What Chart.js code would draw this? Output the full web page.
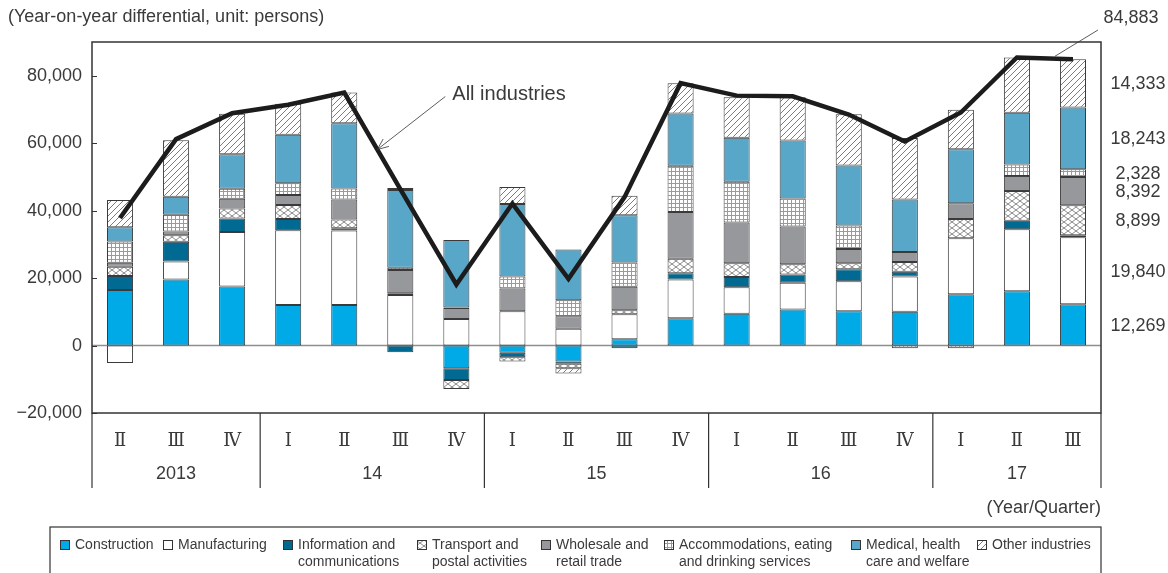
<!DOCTYPE html>
<html>
<head>
<meta charset="utf-8">
<script src="https://cdn.jsdelivr.net/npm/chart.js@4/dist/chart.umd.min.js"></script>
<style>
  html, body { margin: 0; padding: 0; background: #fff; }
</style>
</head>
<body>
<canvas id="chart" width="1168" height="573"></canvas>
<script>
// quarters 2013 II .. 2017 III
const quarters = ["Ⅱ", "Ⅲ", "Ⅳ", "Ⅰ", "Ⅱ", "Ⅲ", "Ⅳ", "Ⅰ", "Ⅱ", "Ⅲ", "Ⅳ", "Ⅰ", "Ⅱ", "Ⅲ", "Ⅳ", "Ⅰ", "Ⅱ", "Ⅲ"]
const years = ["2013", "14", "15", "16", "17"]
const quartersPerYear = [3, 4, 4, 4, 3]
const yTicks = [-20000, 0, 20000, 40000, 60000, 80000]

// year-on-year differential, persons
const construction  = [16450, 19600, 17500, 12000, 12000, 0, -6700, -2100, -4700, 1900, 8100, 9400, 10700, 10200, 10000, 15200, 16100, 12269]
const manufacturing = [-5200, 5300, 16200, 22200, 22100, 15000, 7900, 10200, 5000, 7400, 11500, 7900, 7900, 8900, 10500, 16600, 18400, 19840]
const infoComm      = [4200, 5900, 4000, 3300, 700, -2000, -3500, -1400, -700, -800, 1800, 3000, 2500, 3500, 1400, 0, 2500, 579]
const transport     = [2700, 1900, 2900, 4200, 2600, 500, -2700, -1200, -1300, 1200, 4300, 4100, 3000, 1800, 2900, 5700, 8800, 8899]
const wholesale     = [1200, 1100, 2900, 2900, 5900, 6900, 3200, 6700, 3700, 6900, 13900, 12100, 11200, 4200, 2900, 4700, 4500, 8392]
const accommodation = [6300, 5000, 3000, 3500, 3300, 700, 200, 3600, 4700, 7200, 13700, 12100, 8300, 7000, -800, -800, 3400, 2328]
const medical       = [4200, 5300, 10200, 14400, 19300, 23000, 20000, 21500, 15100, 14000, 15500, 13000, 17200, 17800, 15600, 16000, 15300, 18243]
const otherInd      = [8100, 16800, 12000, 9200, 9100, 600, 0, 5000, -1600, 5800, 9000, 12000, 12800, 15200, 18200, 11700, 16400, 14333]
const allIndustries = [37800, 61200, 68900, 71400, 75000, 46400, 18100, 42100, 19800, 44000, 77800, 74100, 73900, 68500, 60500, 69100, 85400, 84883]

const seriesLabels = [
  ["Construction"],
  ["Manufacturing"],
  ["Information and", "communications"],
  ["Transport and", "postal activities"],
  ["Wholesale and", "retail trade"],
  ["Accommodations, eating", "and drinking services"],
  ["Medical, health", "care and welfare"],
  ["Other industries"]
]

const SANS = '"Liberation Sans", Arial, sans-serif'
const SERIF = '"Liberation Serif", "DejaVu Serif", serif'
const INK = "#3a3a3a"

function makePattern(kind) {
  const c = document.createElement("canvas")
  const g = c.getContext("2d")
  if (kind === "cross") {
    c.width = 8; c.height = 6
    g.fillStyle = "#fff"; g.fillRect(0, 0, 8, 6)
    g.strokeStyle = "#8a8a8a"; g.lineWidth = 1
    g.beginPath()
    g.moveTo(0, 0); g.lineTo(8, 6)
    g.moveTo(8, 0); g.lineTo(0, 6)
    g.stroke()
  } else if (kind === "grid") {
    c.width = 4; c.height = 4
    g.fillStyle = "#fff"; g.fillRect(0, 0, 4, 4)
    g.fillStyle = "#9a9a9a"
    g.fillRect(3, 0, 1, 4)
    g.fillRect(0, 3, 4, 1)
  } else {
    c.width = 6; c.height = 6
    g.fillStyle = "#fff"; g.fillRect(0, 0, 6, 6)
    g.strokeStyle = "#7c7c7c"; g.lineWidth = 1
    g.beginPath()
    g.moveTo(0, 6); g.lineTo(6, 0)
    g.moveTo(-1, 1); g.lineTo(1, -1)
    g.moveTo(5, 7); g.lineTo(7, 5)
    g.stroke()
  }
  return g.createPattern(c, "repeat")
}

const fills = [
  "#00aae7",
  "#ffffff",
  "#006a92",
  makePattern("cross"),
  "#97989c",
  makePattern("grid"),
  "#58a6c8",
  makePattern("diag")
]
const barSeries = [construction, manufacturing, infoComm, transport, wholesale, accommodation, medical, otherInd]

const fmt = v => Math.abs(v).toLocaleString("en-US")

// left edge of each legend swatch
const legendX = [60, 163, 283, 417, 541, 664, 851, 977]

const decor = {
  id: "decor",
  beforeDatasetsDraw(chart) {
    const { ctx, chartArea: a, scales: { y } } = chart
    const y0 = y.getPixelForValue(0)
    ctx.save()
    ctx.strokeStyle = "#8e8e8e"
    ctx.lineWidth = 1.5
    ctx.beginPath()
    ctx.moveTo(a.left, y0); ctx.lineTo(a.right, y0)
    ctx.stroke()
    ctx.restore()
  },
  afterDraw(chart) {
    const { ctx, chartArea: a, scales: { x, y } } = chart
    ctx.save()

    // frame
    ctx.strokeStyle = "#333"
    ctx.lineWidth = 1.5
    ctx.strokeRect(a.left, a.top, a.right - a.left, a.bottom - a.top)

    // inner tick marks
    ctx.lineWidth = 1
    yTicks.forEach(v => {
      const py = Math.round(y.getPixelForValue(v)) + 0.5
      ctx.beginPath()
      ctx.moveTo(a.left, py); ctx.lineTo(a.left + 5, py)
      ctx.stroke()
    })

    // category labels
    const labBottom = a.bottom + 75
    ctx.fillStyle = INK
    ctx.textAlign = "center"
    ctx.textBaseline = "middle"
    ctx.font = "18px " + SERIF
    quarters.forEach((q, i) => ctx.fillText(q, x.getPixelForValue(i), a.bottom + 28))

    ctx.font = "18px " + SANS
    const half = (x.getPixelForValue(1) - x.getPixelForValue(0)) / 2
    let idx = 0
    const edges = [a.left]
    years.forEach((yr, k) => {
      const first = idx, last = idx + quartersPerYear[k] - 1
      ctx.fillText(yr, (x.getPixelForValue(first) + x.getPixelForValue(last)) / 2, a.bottom + 61)
      idx = last + 1
      edges.push(x.getPixelForValue(last) + half)
    })
    ctx.strokeStyle = "#333"
    ctx.lineWidth = 1.2
    edges.forEach(ex => {
      ctx.beginPath()
      ctx.moveTo(ex, a.bottom); ctx.lineTo(ex, labBottom)
      ctx.stroke()
    })

    ctx.textAlign = "right"
    ctx.fillText("(Year/Quarter)", a.right, a.bottom + 95)

    // unit title
    ctx.textAlign = "left"
    ctx.fillText("(Year-on-year differential, unit: persons)", 8, 17)

    // labels for the latest quarter
    const n = quarters.length - 1
    let base = 0
    ctx.textAlign = "center"
    barSeries.forEach(s => {
      const v = s[n]
      if (v <= 0) return
      const mid = (y.getPixelForValue(base) + y.getPixelForValue(base + v)) / 2
      base += v
      if (v < 1000) return
      ctx.fillText(fmt(v), a.right + 37, mid + 1)
    })
    const line = chart.getDatasetMeta(barSeries.length).data
    const lp = line[n]
    ctx.fillText(fmt(allIndustries[n]), a.right + 30, 18)
    ctx.strokeStyle = "#333"
    ctx.lineWidth = 0.8
    ctx.beginPath()
    ctx.moveTo(lp.x - 18, lp.y - 3); ctx.lineTo(lp.x + 25, 30)
    ctx.stroke()

    // "All industries" callout
    const p4 = line[4], p5 = line[5]
    const tip = { x: p4.x + (p5.x - p4.x) * 0.59, y: p4.y + (p5.y - p4.y) * 0.59 }
    const start = { x: tip.x + 68, y: tip.y - 53 }
    ctx.beginPath()
    ctx.moveTo(start.x, start.y); ctx.lineTo(tip.x, tip.y)
    const ang = Math.atan2(start.y - tip.y, start.x - tip.x)
    ;[-0.4, 0.4].forEach(d => {
      ctx.moveTo(tip.x, tip.y)
      ctx.lineTo(tip.x + 12 * Math.cos(ang + d), tip.y + 12 * Math.sin(ang + d))
    })
    ctx.stroke()
    ctx.textAlign = "left"
    ctx.font = "20px " + SANS
    ctx.fillText("All industries", tip.x + 75, tip.y - 55)

    // legend
    ctx.strokeStyle = "#333"
    ctx.lineWidth = 1.2
    ctx.strokeRect(50, 527, a.right - 50, 60)
    ctx.font = "14px " + SANS
    seriesLabels.forEach((lines, i) => {
      const lx = legendX[i]
      ctx.fillStyle = fills[i]
      ctx.fillRect(lx, 540, 9, 9)
      ctx.strokeStyle = "#333"
      ctx.lineWidth = 1
      ctx.strokeRect(lx + 0.5, 540.5, 9, 9)
      ctx.fillStyle = INK
      lines.forEach((t, j) => ctx.fillText(t, lx + 15, 545 + j * 17))
    })

    ctx.restore()
  }
}

const datasets = barSeries.map((s, i) => ({
  type: "bar",
  label: seriesLabels[i].join(" "),
  data: s,
  backgroundColor: fills[i],
  borderColor: "#3a3a3a",
  borderWidth: 1,
  borderSkipped: false,
  stack: "industries",
  order: 1,
  barPercentage: 0.465,
  categoryPercentage: 1
}))
datasets.push({
  type: "line",
  label: "All industries",
  data: allIndustries,
  borderColor: "#1c1c1c",
  borderWidth: 4.5,
  pointRadius: 0,
  tension: 0,
  fill: false,
  stack: "total",
  order: 0
})

new Chart(document.getElementById("chart").getContext("2d"), {
  data: {
    labels: quarters.map((q, i) => i),
    datasets: datasets
  },
  options: {
    responsive: false,
    animation: false,
    layout: { padding: { left: 0, right: 67, top: 42, bottom: 160 } },
    plugins: {
      legend: { display: false },
      tooltip: { enabled: false }
    },
    scales: {
      x: { stacked: true, display: false, offset: true },
      y: {
        stacked: true,
        min: -20000,
        max: 90000,
        afterFit: s => { s.width = 92 },
        afterBuildTicks: s => { s.ticks = yTicks.map(v => ({ value: v })) },
        grid: { display: false, drawTicks: false },
        border: { display: false },
        ticks: {
          autoSkip: false,
          padding: 10,
          color: INK,
          font: { family: SANS, size: 18 },
          callback: v => (v < 0 ? "\u2212" : "") + fmt(v)
        }
      }
    }
  },
  plugins: [decor]
})
</script>
</body>
</html>
